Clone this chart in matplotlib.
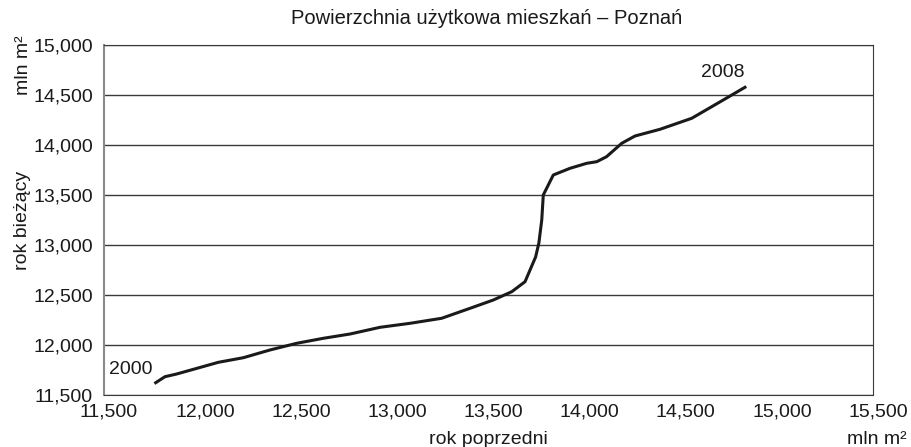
import matplotlib
matplotlib.use("Agg")
import matplotlib.pyplot as plt
import matplotlib.transforms as mtransforms
from matplotlib.ticker import FuncFormatter, MultipleLocator

plt.rcParams['font.family'] = ['Liberation Sans', 'DejaVu Sans']

# Data (mln m2): previous year (x) vs current year (y)
prev_year = [11769, 11817, 11878, 12095, 12225, 12363, 12502, 12641, 12780, 12936,
             13092, 13256, 13404, 13525, 13621, 13690, 13745, 13762, 13777, 13785,
             13837, 13924, 14011, 14063, 14114, 14193, 14262, 14392, 14557, 14721, 14834]
curr_year = [11623, 11683, 11710, 11827, 11873, 11950, 12017, 12067, 12110, 12177,
             12217, 12267, 12367, 12450, 12533, 12633, 12880, 13020, 13250, 13500,
             13700, 13767, 13817, 13833, 13883, 14017, 14090, 14157, 14267, 14450, 14577]
year_labels = ["2000", "2008"]

fig = plt.figure(figsize=(9.11, 4.47), dpi=100)
ax = fig.add_axes([104/911, 1-395/447, (873-104)/911, (395-45)/447])

ax.set_xlim(11500, 15500)
ax.set_ylim(11500, 15000)
ax.xaxis.set_major_locator(MultipleLocator(500))
ax.yaxis.set_major_locator(MultipleLocator(500))
fmt = FuncFormatter(lambda v, p: f"{int(round(v)):,}")
ax.xaxis.set_major_formatter(fmt)
ax.yaxis.set_major_formatter(fmt)

ax.yaxis.grid(True, color='#3a3a3a', linewidth=1.0)
ax.set_axisbelow(True)

ax.plot(prev_year, curr_year, color='#1a1a1a', linewidth=2.2, solid_joinstyle='round')

ax.spines['top'].set_color('#3a3a3a')
ax.spines['left'].set_color('#8a8a8a')
ax.spines['left'].set_linewidth(1.5)
ax.spines['right'].set_color('#3a3a3a')
ax.spines['bottom'].set_color('#3a3a3a')

ax.tick_params(axis='both', length=0, labelsize=14, colors='#1a1a1a')
ax.tick_params(axis='x', pad=6)
ax.tick_params(axis='y', pad=8)
offset = mtransforms.ScaledTranslation(5/100, 0, fig.dpi_scale_trans)
for lbl in ax.get_xticklabels():
    lbl.set_transform(lbl.get_transform() + offset)

ax.text(11640, 11760, year_labels[0], fontsize=14, ha='center', va='center', color='#1a1a1a')
ax.text(14720, 14725, year_labels[1], fontsize=14, ha='center', va='center', color='#1a1a1a')

fig.text(487/911, 1-18/447, "Powierzchnia użytkowa mieszkań – Poznań", fontsize=14.5,
         ha='center', va='center', color='#1a1a1a')
fig.text(23/911, 1-220/447, "rok bieżący", fontsize=14, rotation=90,
         ha='center', va='center', color='#1a1a1a')
fig.text(23/911, 1-65/447, "mln m²", fontsize=14, rotation=90,
         ha='center', va='center', color='#1a1a1a')
fig.text(548/911, 1-440/447, "rok poprzedni", fontsize=14,
         ha='right', va='center', color='#1a1a1a')
fig.text(907/911, 1-440/447, "mln m²", fontsize=14,
         ha='right', va='center', color='#1a1a1a')

fig.savefig("out.png", dpi=100)
